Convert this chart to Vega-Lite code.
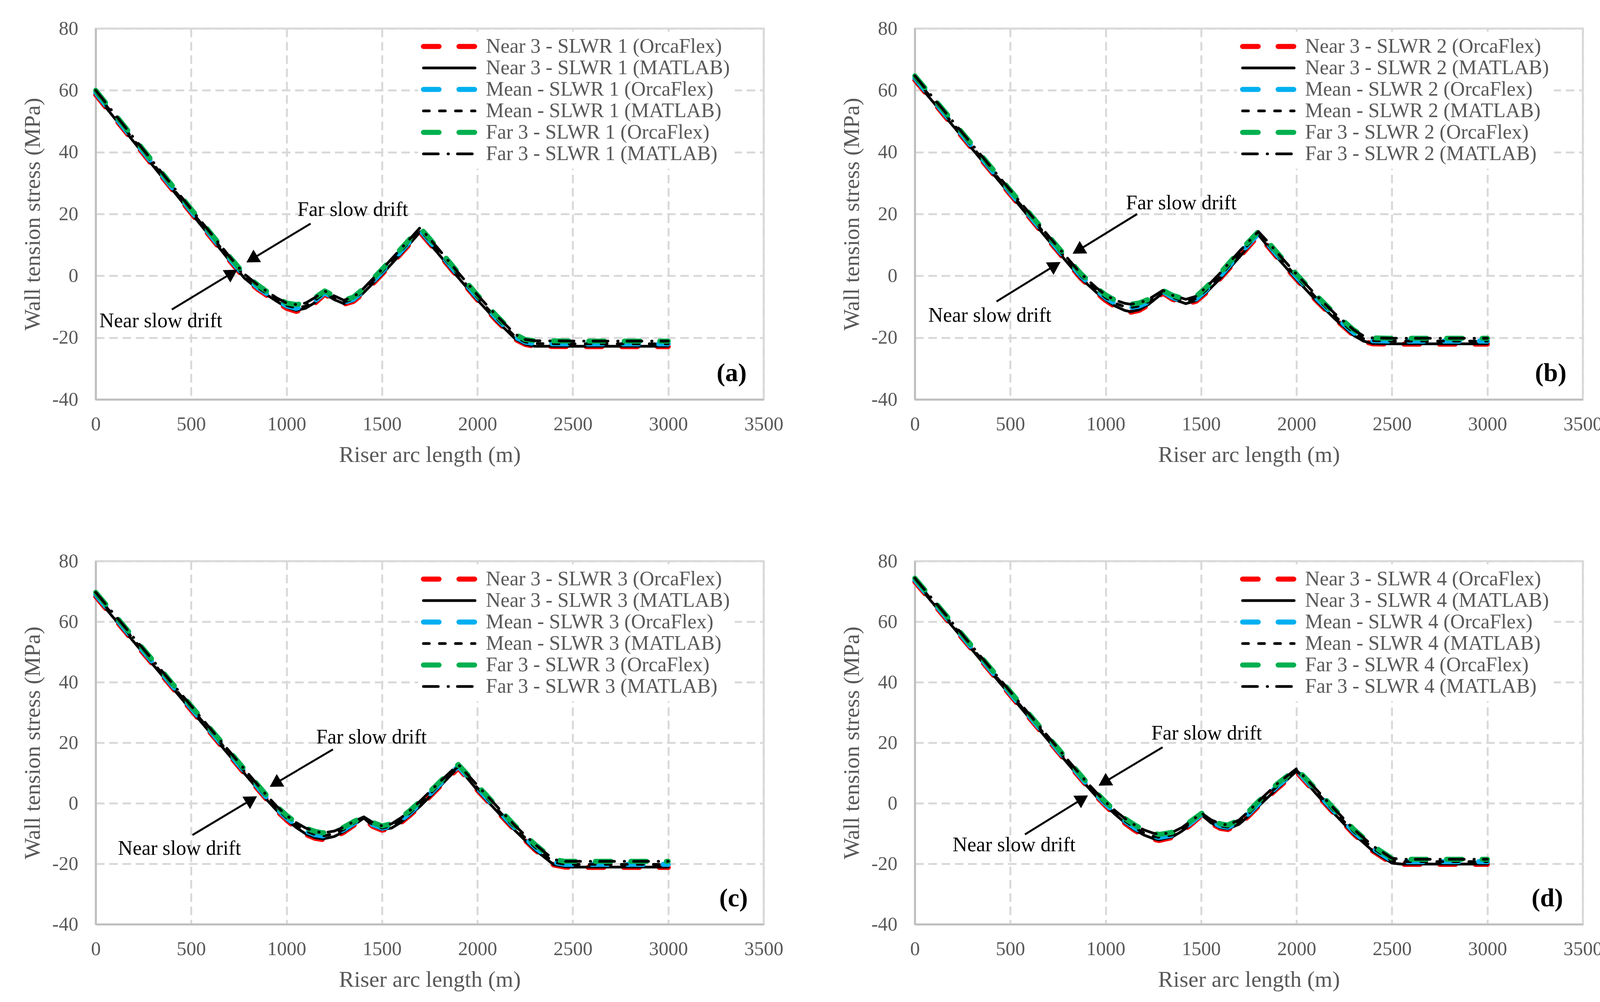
{
  "$schema": "https://vega.github.io/schema/vega-lite/v6.json",
  "background": "white",
  "padding": {"left": 52, "top": 45, "right": 10, "bottom": 10},
  "columns": 2,
  "spacing": {"row": 414, "column": 387},
  "bounds": "flush",
  "resolve": {
    "scale": {"x": "independent", "y": "independent", "color": "independent", "strokeDash": "independent"},
    "legend": {"color": "independent", "strokeDash": "independent"}
  },
  "config": {
    "font": "Liberation Serif",
    "view": {"stroke": "#d9d9d9", "strokeWidth": 5},
    "axis": {
      "labelFont": "Liberation Serif", "labelFontSize": 50, "labelColor": "#595959",
      "titleFont": "Liberation Serif", "titleFontSize": 58, "titleColor": "#595959", "titleFontWeight": "normal",
      "ticks": false, "domainColor": "#bfbfbf", "domainWidth": 5,
      "gridColor": "#d9d9d9", "gridWidth": 5, "gridDash": [22, 12],
      "labelFlush": false, "labelOverlap": false
    },
    "axisX": {"labelPadding": 38, "titlePadding": 25},
    "axisY": {"labelPadding": 45, "titlePadding": 20},
    "legend": {
      "fillColor": "white", "padding": 12, "symbolType": "stroke", "symbolSize": 17424,
      "symbolOffset": 42, "labelFont": "Liberation Serif", "labelFontSize": 52, "labelColor": "#595959",
      "labelOffset": 68, "rowPadding": 3, "labelLimit": 2000
    }
  },
  "datasets": {
    "a": [
      {"x": 0, "NO": 58.6, "NM": 58.6, "MO": 59.3, "MM": 59.3, "FO": 60.0, "FM": 60.0},
      {"x": 100, "NO": 50.9, "NM": 50.9, "MO": 51.6, "MM": 51.6, "FO": 52.3, "FM": 52.3},
      {"x": 200, "NO": 43.3, "NM": 43.3, "MO": 43.9, "MM": 43.9, "FO": 44.6, "FM": 44.6},
      {"x": 300, "NO": 35.6, "NM": 35.6, "MO": 36.3, "MM": 36.3, "FO": 36.9, "FM": 36.9},
      {"x": 400, "NO": 28.0, "NM": 28.0, "MO": 28.6, "MM": 28.6, "FO": 29.3, "FM": 29.3},
      {"x": 500, "NO": 20.3, "NM": 20.3, "MO": 21.0, "MM": 21.0, "FO": 21.6, "FM": 21.6},
      {"x": 600, "NO": 12.7, "NM": 12.7, "MO": 13.3, "MM": 13.3, "FO": 14.0, "FM": 14.0},
      {"x": 700, "NO": 5.0, "NM": 5.0, "MO": 5.7, "MM": 5.7, "FO": 6.3, "FM": 6.3},
      {"x": 780, "NO": -0.8, "NM": -0.8, "MO": -0.1, "MM": -0.1, "FO": 0.5, "FM": 0.5},
      {"x": 850, "NO": -4.4, "NM": -4.3, "MO": -3.8, "MM": -3.8, "FO": -3.0, "FM": -3.0},
      {"x": 900, "NO": -6.5, "NM": -6.3, "MO": -5.9, "MM": -5.9, "FO": -5.2, "FM": -5.2},
      {"x": 950, "NO": -8.6, "NM": -8.3, "MO": -8.0, "MM": -7.9, "FO": -7.2, "FM": -7.2},
      {"x": 1000, "NO": -10.5, "NM": -10.2, "MO": -9.7, "MM": -9.6, "FO": -8.8, "FM": -8.8},
      {"x": 1050, "NO": -11.5, "NM": -11.2, "MO": -10.5, "MM": -10.4, "FO": -9.3, "FM": -9.3},
      {"x": 1100, "NO": -10.8, "NM": -10.5, "MO": -9.9, "MM": -9.8, "FO": -8.8, "FM": -8.8},
      {"x": 1150, "NO": -8.8, "NM": -8.6, "MO": -8.0, "MM": -7.9, "FO": -7.0, "FM": -7.0},
      {"x": 1200, "NO": -6.0, "NM": -5.9, "MO": -5.5, "MM": -5.5, "FO": -4.9, "FM": -4.9},
      {"x": 1250, "NO": -7.9, "NM": -7.7, "MO": -7.2, "MM": -7.2, "FO": -6.5, "FM": -6.5},
      {"x": 1300, "NO": -9.2, "NM": -9.0, "MO": -8.6, "MM": -8.5, "FO": -7.9, "FM": -7.9},
      {"x": 1350, "NO": -8.3, "NM": -8.1, "MO": -7.6, "MM": -7.6, "FO": -6.9, "FM": -6.9},
      {"x": 1400, "NO": -5.8, "NM": -5.7, "MO": -5.0, "MM": -5.0, "FO": -4.3, "FM": -4.3},
      {"x": 1450, "NO": -2.7, "NM": -2.6, "MO": -1.9, "MM": -1.9, "FO": -1.1, "FM": -1.1},
      {"x": 1500, "NO": 0.5, "NM": 0.5, "MO": 1.3, "MM": 1.3, "FO": 2.1, "FM": 2.1},
      {"x": 1600, "NO": 7.2, "NM": 7.2, "MO": 8.0, "MM": 8.0, "FO": 8.8, "FM": 8.8},
      {"x": 1700, "NO": 14.0, "NM": 14.2, "MO": 14.8, "MM": 14.8, "FO": 15.6, "FM": 15.6},
      {"x": 1750, "NO": 10.4, "NM": 10.4, "MO": 11.2, "MM": 11.2, "FO": 12.0, "FM": 12.0},
      {"x": 1800, "NO": 6.8, "NM": 6.8, "MO": 7.6, "MM": 7.6, "FO": 8.4, "FM": 8.4},
      {"x": 1900, "NO": -0.6, "NM": -0.6, "MO": 0.2, "MM": 0.2, "FO": 1.0, "FM": 1.0},
      {"x": 2000, "NO": -7.8, "NM": -7.8, "MO": -7.0, "MM": -7.0, "FO": -6.2, "FM": -6.2},
      {"x": 2100, "NO": -14.5, "NM": -14.5, "MO": -13.7, "MM": -13.7, "FO": -12.9, "FM": -12.9},
      {"x": 2200, "NO": -20.6, "NM": -20.5, "MO": -19.8, "MM": -19.8, "FO": -19.0, "FM": -19.0},
      {"x": 2250, "NO": -22.2, "NM": -22.1, "MO": -21.4, "MM": -21.4, "FO": -20.6, "FM": -20.6},
      {"x": 2300, "NO": -22.8, "NM": -22.8, "MO": -21.9, "MM": -21.9, "FO": -21.0, "FM": -21.0},
      {"x": 2500, "NO": -22.9, "NM": -22.8, "MO": -22.0, "MM": -22.0, "FO": -21.1, "FM": -21.1},
      {"x": 3000, "NO": -22.9, "NM": -22.8, "MO": -22.0, "MM": -22.0, "FO": -21.1, "FM": -21.1}
    ],
    "b": [
      {"x": 0, "NO": 63.3, "NM": 63.3, "MO": 64.0, "MM": 64.0, "FO": 64.7, "FM": 64.7},
      {"x": 100, "NO": 55.9, "NM": 55.9, "MO": 56.6, "MM": 56.6, "FO": 57.3, "FM": 57.3},
      {"x": 200, "NO": 48.5, "NM": 48.5, "MO": 49.2, "MM": 49.2, "FO": 49.9, "FM": 49.9},
      {"x": 300, "NO": 41.1, "NM": 41.1, "MO": 41.8, "MM": 41.8, "FO": 42.5, "FM": 42.5},
      {"x": 400, "NO": 33.7, "NM": 33.7, "MO": 34.4, "MM": 34.4, "FO": 35.1, "FM": 35.1},
      {"x": 500, "NO": 26.3, "NM": 26.3, "MO": 27.0, "MM": 27.0, "FO": 27.7, "FM": 27.7},
      {"x": 600, "NO": 18.9, "NM": 18.9, "MO": 19.6, "MM": 19.6, "FO": 20.3, "FM": 20.3},
      {"x": 700, "NO": 11.5, "NM": 11.5, "MO": 12.2, "MM": 12.2, "FO": 12.9, "FM": 12.9},
      {"x": 800, "NO": 4.2, "NM": 4.2, "MO": 5.0, "MM": 5.0, "FO": 5.7, "FM": 5.7},
      {"x": 870, "NO": -0.8, "NM": -0.8, "MO": 0.0, "MM": 0.0, "FO": 0.7, "FM": 0.7},
      {"x": 950, "NO": -5.4, "NM": -5.3, "MO": -4.6, "MM": -4.6, "FO": -3.8, "FM": -3.8},
      {"x": 1000, "NO": -8.0, "NM": -7.8, "MO": -7.1, "MM": -7.1, "FO": -6.2, "FM": -6.2},
      {"x": 1050, "NO": -10.0, "NM": -9.8, "MO": -8.9, "MM": -8.9, "FO": -7.9, "FM": -7.9},
      {"x": 1100, "NO": -11.4, "NM": -11.2, "MO": -10.0, "MM": -10.0, "FO": -8.9, "FM": -8.9},
      {"x": 1130, "NO": -11.8, "NM": -11.6, "MO": -10.3, "MM": -10.3, "FO": -9.2, "FM": -9.2},
      {"x": 1175, "NO": -11.2, "NM": -11.0, "MO": -9.8, "MM": -9.8, "FO": -8.8, "FM": -8.8},
      {"x": 1225, "NO": -9.4, "NM": -9.2, "MO": -8.4, "MM": -8.4, "FO": -7.6, "FM": -7.6},
      {"x": 1300, "NO": -5.6, "NM": -5.5, "MO": -5.1, "MM": -5.1, "FO": -4.7, "FM": -4.7},
      {"x": 1350, "NO": -7.6, "NM": -7.5, "MO": -7.0, "MM": -7.0, "FO": -6.3, "FM": -6.3},
      {"x": 1420, "NO": -9.2, "NM": -9.0, "MO": -8.4, "MM": -8.4, "FO": -7.6, "FM": -7.6},
      {"x": 1475, "NO": -8.2, "NM": -8.0, "MO": -7.4, "MM": -7.4, "FO": -6.6, "FM": -6.6},
      {"x": 1525, "NO": -5.6, "NM": -5.5, "MO": -4.7, "MM": -4.7, "FO": -3.8, "FM": -3.8},
      {"x": 1600, "NO": -0.9, "NM": -0.9, "MO": 0.0, "MM": 0.0, "FO": 0.9, "FM": 0.9},
      {"x": 1700, "NO": 6.0, "NM": 6.0, "MO": 7.0, "MM": 7.0, "FO": 7.9, "FM": 7.9},
      {"x": 1800, "NO": 13.0, "NM": 13.3, "MO": 13.6, "MM": 13.6, "FO": 14.3, "FM": 14.3},
      {"x": 1850, "NO": 9.5, "NM": 9.5, "MO": 10.3, "MM": 10.3, "FO": 11.0, "FM": 11.0},
      {"x": 1900, "NO": 5.8, "NM": 5.8, "MO": 6.6, "MM": 6.6, "FO": 7.4, "FM": 7.4},
      {"x": 2000, "NO": -1.2, "NM": -1.2, "MO": -0.3, "MM": -0.3, "FO": 0.5, "FM": 0.5},
      {"x": 2100, "NO": -7.8, "NM": -7.8, "MO": -6.9, "MM": -6.9, "FO": -6.1, "FM": -6.1},
      {"x": 2200, "NO": -13.9, "NM": -13.9, "MO": -13.0, "MM": -13.0, "FO": -12.2, "FM": -12.2},
      {"x": 2300, "NO": -19.3, "NM": -19.3, "MO": -18.4, "MM": -18.4, "FO": -17.5, "FM": -17.5},
      {"x": 2350, "NO": -21.2, "NM": -21.1, "MO": -20.3, "MM": -20.3, "FO": -19.4, "FM": -19.4},
      {"x": 2400, "NO": -22.0, "NM": -21.9, "MO": -21.0, "MM": -21.0, "FO": -20.1, "FM": -20.1},
      {"x": 2500, "NO": -22.1, "NM": -22.0, "MO": -21.1, "MM": -21.1, "FO": -20.2, "FM": -20.2},
      {"x": 3000, "NO": -22.1, "NM": -22.0, "MO": -21.1, "MM": -21.1, "FO": -20.2, "FM": -20.2}
    ],
    "c": [
      {"x": 0, "NO": 68.3, "NM": 68.3, "MO": 69.0, "MM": 69.0, "FO": 69.7, "FM": 69.7},
      {"x": 100, "NO": 60.8, "NM": 60.8, "MO": 61.5, "MM": 61.5, "FO": 62.2, "FM": 62.2},
      {"x": 200, "NO": 53.3, "NM": 53.3, "MO": 54.0, "MM": 54.0, "FO": 54.7, "FM": 54.7},
      {"x": 300, "NO": 45.8, "NM": 45.8, "MO": 46.5, "MM": 46.5, "FO": 47.2, "FM": 47.2},
      {"x": 400, "NO": 38.3, "NM": 38.3, "MO": 39.0, "MM": 39.0, "FO": 39.7, "FM": 39.7},
      {"x": 500, "NO": 30.8, "NM": 30.8, "MO": 31.5, "MM": 31.5, "FO": 32.2, "FM": 32.2},
      {"x": 600, "NO": 23.3, "NM": 23.3, "MO": 24.0, "MM": 24.0, "FO": 24.7, "FM": 24.7},
      {"x": 700, "NO": 15.8, "NM": 15.8, "MO": 16.5, "MM": 16.5, "FO": 17.2, "FM": 17.2},
      {"x": 800, "NO": 8.3, "NM": 8.3, "MO": 9.0, "MM": 9.0, "FO": 9.7, "FM": 9.7},
      {"x": 900, "NO": 0.9, "NM": 0.9, "MO": 1.6, "MM": 1.6, "FO": 2.3, "FM": 2.3},
      {"x": 950, "NO": -2.6, "NM": -2.5, "MO": -1.9, "MM": -1.9, "FO": -1.1, "FM": -1.1},
      {"x": 1000, "NO": -5.6, "NM": -5.4, "MO": -4.8, "MM": -4.8, "FO": -4.0, "FM": -4.0},
      {"x": 1050, "NO": -8.2, "NM": -8.0, "MO": -7.3, "MM": -7.3, "FO": -6.4, "FM": -6.4},
      {"x": 1100, "NO": -10.3, "NM": -10.1, "MO": -9.2, "MM": -9.2, "FO": -8.2, "FM": -8.2},
      {"x": 1150, "NO": -11.6, "NM": -11.4, "MO": -10.4, "MM": -10.4, "FO": -9.3, "FM": -9.3},
      {"x": 1190, "NO": -12.0, "NM": -11.8, "MO": -10.8, "MM": -10.8, "FO": -9.8, "FM": -9.8},
      {"x": 1250, "NO": -11.2, "NM": -11.0, "MO": -10.1, "MM": -10.1, "FO": -9.2, "FM": -9.2},
      {"x": 1300, "NO": -9.6, "NM": -9.4, "MO": -8.7, "MM": -8.7, "FO": -7.9, "FM": -7.9},
      {"x": 1350, "NO": -7.4, "NM": -7.3, "MO": -6.7, "MM": -6.7, "FO": -6.1, "FM": -6.1},
      {"x": 1405, "NO": -5.1, "NM": -4.9, "MO": -4.8, "MM": -4.8, "FO": -4.5, "FM": -4.5},
      {"x": 1450, "NO": -7.6, "NM": -7.4, "MO": -7.0, "MM": -7.0, "FO": -6.3, "FM": -6.3},
      {"x": 1500, "NO": -8.9, "NM": -8.7, "MO": -8.2, "MM": -8.2, "FO": -7.5, "FM": -7.5},
      {"x": 1550, "NO": -8.4, "NM": -8.2, "MO": -7.6, "MM": -7.6, "FO": -6.8, "FM": -6.8},
      {"x": 1600, "NO": -6.4, "NM": -6.3, "MO": -5.6, "MM": -5.6, "FO": -4.8, "FM": -4.8},
      {"x": 1650, "NO": -3.8, "NM": -3.7, "MO": -3.0, "MM": -3.0, "FO": -2.2, "FM": -2.2},
      {"x": 1700, "NO": -1.0, "NM": -1.0, "MO": -0.1, "MM": -0.1, "FO": 0.7, "FM": 0.7},
      {"x": 1800, "NO": 5.3, "NM": 5.3, "MO": 6.1, "MM": 6.1, "FO": 6.9, "FM": 6.9},
      {"x": 1900, "NO": 11.6, "NM": 11.9, "MO": 12.2, "MM": 12.2, "FO": 12.8, "FM": 12.8},
      {"x": 2000, "NO": 4.3, "NM": 4.3, "MO": 5.1, "MM": 5.1, "FO": 5.9, "FM": 5.9},
      {"x": 2100, "NO": -2.5, "NM": -2.5, "MO": -1.7, "MM": -1.7, "FO": -0.9, "FM": -0.9},
      {"x": 2200, "NO": -9.2, "NM": -9.2, "MO": -8.4, "MM": -8.4, "FO": -7.6, "FM": -7.6},
      {"x": 2300, "NO": -15.3, "NM": -15.3, "MO": -14.4, "MM": -14.4, "FO": -13.5, "FM": -13.5},
      {"x": 2400, "NO": -20.4, "NM": -20.3, "MO": -19.5, "MM": -19.5, "FO": -18.6, "FM": -18.6},
      {"x": 2460, "NO": -21.1, "NM": -21.0, "MO": -20.2, "MM": -20.2, "FO": -19.2, "FM": -19.2},
      {"x": 2500, "NO": -21.2, "NM": -21.1, "MO": -20.2, "MM": -20.2, "FO": -19.2, "FM": -19.2},
      {"x": 3000, "NO": -21.2, "NM": -21.1, "MO": -20.2, "MM": -20.2, "FO": -19.2, "FM": -19.2}
    ],
    "d": [
      {"x": 0, "NO": 73.2, "NM": 73.2, "MO": 73.8, "MM": 73.8, "FO": 74.4, "FM": 74.4},
      {"x": 100, "NO": 65.7, "NM": 65.7, "MO": 66.3, "MM": 66.3, "FO": 66.9, "FM": 66.9},
      {"x": 200, "NO": 58.2, "NM": 58.2, "MO": 58.8, "MM": 58.8, "FO": 59.4, "FM": 59.4},
      {"x": 300, "NO": 50.7, "NM": 50.7, "MO": 51.3, "MM": 51.3, "FO": 51.9, "FM": 51.9},
      {"x": 400, "NO": 43.2, "NM": 43.2, "MO": 43.8, "MM": 43.8, "FO": 44.4, "FM": 44.4},
      {"x": 500, "NO": 35.7, "NM": 35.7, "MO": 36.3, "MM": 36.3, "FO": 36.9, "FM": 36.9},
      {"x": 600, "NO": 28.2, "NM": 28.2, "MO": 28.8, "MM": 28.8, "FO": 29.4, "FM": 29.4},
      {"x": 700, "NO": 20.7, "NM": 20.7, "MO": 21.3, "MM": 21.3, "FO": 21.9, "FM": 21.9},
      {"x": 800, "NO": 13.2, "NM": 13.2, "MO": 13.8, "MM": 13.8, "FO": 14.4, "FM": 14.4},
      {"x": 900, "NO": 5.8, "NM": 5.8, "MO": 6.4, "MM": 6.4, "FO": 7.0, "FM": 7.0},
      {"x": 950, "NO": 2.3, "NM": 2.3, "MO": 2.9, "MM": 2.9, "FO": 3.6, "FM": 3.6},
      {"x": 1000, "NO": -0.9, "NM": -0.8, "MO": -0.3, "MM": -0.3, "FO": 0.4, "FM": 0.4},
      {"x": 1050, "NO": -3.9, "NM": -3.7, "MO": -3.2, "MM": -3.2, "FO": -2.5, "FM": -2.5},
      {"x": 1100, "NO": -6.6, "NM": -6.4, "MO": -5.8, "MM": -5.8, "FO": -5.0, "FM": -5.0},
      {"x": 1150, "NO": -8.9, "NM": -8.7, "MO": -8.0, "MM": -8.0, "FO": -7.1, "FM": -7.1},
      {"x": 1200, "NO": -10.7, "NM": -10.5, "MO": -9.8, "MM": -9.8, "FO": -8.8, "FM": -8.8},
      {"x": 1250, "NO": -11.9, "NM": -11.7, "MO": -10.9, "MM": -10.9, "FO": -9.9, "FM": -9.9},
      {"x": 1280, "NO": -12.3, "NM": -12.1, "MO": -11.3, "MM": -11.3, "FO": -10.3, "FM": -10.3},
      {"x": 1350, "NO": -11.3, "NM": -11.1, "MO": -10.5, "MM": -10.5, "FO": -9.6, "FM": -9.6},
      {"x": 1400, "NO": -9.4, "NM": -9.2, "MO": -8.7, "MM": -8.7, "FO": -8.0, "FM": -8.0},
      {"x": 1450, "NO": -6.9, "NM": -6.8, "MO": -6.3, "MM": -6.3, "FO": -5.7, "FM": -5.7},
      {"x": 1503, "NO": -4.0, "NM": -3.9, "MO": -3.6, "MM": -3.6, "FO": -3.3, "FM": -3.3},
      {"x": 1550, "NO": -6.6, "NM": -6.4, "MO": -6.0, "MM": -6.0, "FO": -5.4, "FM": -5.4},
      {"x": 1600, "NO": -8.3, "NM": -8.1, "MO": -7.5, "MM": -7.5, "FO": -6.8, "FM": -6.8},
      {"x": 1640, "NO": -8.7, "NM": -8.5, "MO": -7.9, "MM": -7.9, "FO": -7.2, "FM": -7.2},
      {"x": 1700, "NO": -7.0, "NM": -6.9, "MO": -6.2, "MM": -6.2, "FO": -5.5, "FM": -5.5},
      {"x": 1750, "NO": -4.2, "NM": -4.1, "MO": -3.4, "MM": -3.4, "FO": -2.6, "FM": -2.6},
      {"x": 1800, "NO": -1.0, "NM": -1.0, "MO": -0.2, "MM": -0.2, "FO": 0.6, "FM": 0.6},
      {"x": 1900, "NO": 4.9, "NM": 4.9, "MO": 5.7, "MM": 5.7, "FO": 6.5, "FM": 6.5},
      {"x": 2000, "NO": 10.3, "NM": 10.6, "MO": 10.9, "MM": 10.9, "FO": 11.4, "FM": 11.4},
      {"x": 2100, "NO": 3.3, "NM": 3.3, "MO": 4.1, "MM": 4.1, "FO": 4.8, "FM": 4.8},
      {"x": 2200, "NO": -3.6, "NM": -3.6, "MO": -2.8, "MM": -2.8, "FO": -2.0, "FM": -2.0},
      {"x": 2300, "NO": -10.2, "NM": -10.2, "MO": -9.4, "MM": -9.4, "FO": -8.6, "FM": -8.6},
      {"x": 2400, "NO": -15.8, "NM": -15.8, "MO": -14.9, "MM": -14.9, "FO": -14.1, "FM": -14.1},
      {"x": 2500, "NO": -19.9, "NM": -19.8, "MO": -19.0, "MM": -19.0, "FO": -18.2, "FM": -18.2},
      {"x": 2550, "NO": -20.2, "NM": -20.1, "MO": -19.3, "MM": -19.3, "FO": -18.5, "FM": -18.5},
      {"x": 3000, "NO": -20.2, "NM": -20.1, "MO": -19.3, "MM": -19.3, "FO": -18.5, "FM": -18.5}
    ]
  },
  "concat": [
    {
      "width": 1710, "height": 950,
      "layer": [
        {
          "data": {"name": "a"},
          "transform": [{"fold": ["NO", "NM", "MO", "MM", "FO", "FM"], "as": ["series", "stress"]}],
          "mark": {"type": "line", "strokeCap": "round", "strokeJoin": "round"},
          "encoding": {
            "x": {"field": "x", "type": "quantitative", "scale": {"domain": [0, 3500], "nice": false},
              "axis": {"title": "Riser arc length (m)", "values": [0, 500, 1000, 1500, 2000, 2500, 3000, 3500], "labelExpr": "datum.value + ''"}},
            "y": {"field": "stress", "type": "quantitative", "scale": {"domain": [-40, 80], "nice": false},
              "axis": {"title": "Wall tension stress (MPa)", "values": [-40, -20, 0, 20, 40, 60, 80], "labelExpr": "datum.value + ''"}},
            "color": {"field": "series", "type": "nominal",
              "scale": {"domain": ["NO", "NM", "MO", "MM", "FO", "FM"], "range": ["#ff0000", "#000000", "#00b0f0", "#000000", "#00b050", "#000000"]},
              "legend": {"title": null, "orient": "none", "legendX": 825, "legendY": 8,
                "labelExpr": "{'NO': 'Near 3 - SLWR 1 (OrcaFlex)', 'NM': 'Near 3 - SLWR 1 (MATLAB)', 'MO': 'Mean - SLWR 1 (OrcaFlex)', 'MM': 'Mean - SLWR 1 (MATLAB)', 'FO': 'Far 3 - SLWR 1 (OrcaFlex)', 'FM': 'Far 3 - SLWR 1 (MATLAB)'}[datum.value]",
                "encode": {"symbols": {"update": {"strokeCap": {"value": "round"}, "strokeWidth": {"signal": "indexof(['NM','MM','FM'], datum.value) >= 0 ? 7 : 13"}}}}}},
            "strokeDash": {"field": "series", "type": "nominal",
              "scale": {"domain": ["NO", "NM", "MO", "MM", "FO", "FM"], "range": [[40, 51], [1, 0], [40, 51], [15, 26], [40, 51], [38, 25, 1, 23]]}},
            "strokeWidth": {"condition": {"test": "indexof(['NO','MO','FO'], datum.series) >= 0", "value": 13}, "value": 7}
          }
        },
        {
          "data": {"values": [{"x": 1347, "y": 19.4, "label": "Far slow drift"}, {"x": 341, "y": -16.6, "label": "Near slow drift"}]},
          "mark": {"type": "text", "font": "Liberation Serif", "fontSize": 52, "color": "#000000", "align": "center", "baseline": "alphabetic"},
          "encoding": {"x": {"field": "x", "type": "quantitative"}, "y": {"field": "y", "type": "quantitative"}, "text": {"field": "label"}}
        },
        {
          "data": {"values": [{"x": 1126, "y": 16.9, "x2": 818, "y2": 5.4}, {"x": 399, "y": -10.9, "x2": 714, "y2": 0.9}]},
          "mark": {"type": "rule", "color": "#000000", "strokeWidth": 5},
          "encoding": {"x": {"field": "x", "type": "quantitative"}, "y": {"field": "y", "type": "quantitative"}, "x2": {"field": "x2"}, "y2": {"field": "y2"}}
        },
        {
          "data": {"values": [{"x": 818, "y": 5.4}]},
          "mark": {"type": "point", "shape": "triangle-up", "filled": true, "color": "#000000", "opacity": 1, "size": 1400, "angle": 238.8},
          "encoding": {"x": {"field": "x", "type": "quantitative"}, "y": {"field": "y", "type": "quantitative"}}
        },
        {
          "data": {"values": [{"x": 714, "y": 0.9}]},
          "mark": {"type": "point", "shape": "triangle-up", "filled": true, "color": "#000000", "opacity": 1, "size": 1400, "angle": 58.6},
          "encoding": {"x": {"field": "x", "type": "quantitative"}, "y": {"field": "y", "type": "quantitative"}}
        },
        {
          "data": {"values": [{"x": 3332, "y": -31.5, "label": "(a)"}]},
          "mark": {"type": "text", "font": "Liberation Serif", "fontSize": 66, "fontWeight": "bold", "color": "#000000", "align": "center", "baseline": "middle"},
          "encoding": {"x": {"field": "x", "type": "quantitative"}, "y": {"field": "y", "type": "quantitative"}, "text": {"field": "label"}}
        }
      ]
    },
    {
      "width": 1710, "height": 950,
      "layer": [
        {
          "data": {"name": "b"},
          "transform": [{"fold": ["NO", "NM", "MO", "MM", "FO", "FM"], "as": ["series", "stress"]}],
          "mark": {"type": "line", "strokeCap": "round", "strokeJoin": "round"},
          "encoding": {
            "x": {"field": "x", "type": "quantitative", "scale": {"domain": [0, 3500], "nice": false},
              "axis": {"title": "Riser arc length (m)", "values": [0, 500, 1000, 1500, 2000, 2500, 3000, 3500], "labelExpr": "datum.value + ''"}},
            "y": {"field": "stress", "type": "quantitative", "scale": {"domain": [-40, 80], "nice": false},
              "axis": {"title": "Wall tension stress (MPa)", "values": [-40, -20, 0, 20, 40, 60, 80], "labelExpr": "datum.value + ''"}},
            "color": {"field": "series", "type": "nominal",
              "scale": {"domain": ["NO", "NM", "MO", "MM", "FO", "FM"], "range": ["#ff0000", "#000000", "#00b0f0", "#000000", "#00b050", "#000000"]},
              "legend": {"title": null, "orient": "none", "legendX": 825, "legendY": 8,
                "labelExpr": "{'NO': 'Near 3 - SLWR 2 (OrcaFlex)', 'NM': 'Near 3 - SLWR 2 (MATLAB)', 'MO': 'Mean - SLWR 2 (OrcaFlex)', 'MM': 'Mean - SLWR 2 (MATLAB)', 'FO': 'Far 3 - SLWR 2 (OrcaFlex)', 'FM': 'Far 3 - SLWR 2 (MATLAB)'}[datum.value]",
                "encode": {"symbols": {"update": {"strokeCap": {"value": "round"}, "strokeWidth": {"signal": "indexof(['NM','MM','FM'], datum.value) >= 0 ? 7 : 13"}}}}}},
            "strokeDash": {"field": "series", "type": "nominal",
              "scale": {"domain": ["NO", "NM", "MO", "MM", "FO", "FM"], "range": [[40, 51], [1, 0], [40, 51], [15, 26], [40, 51], [38, 25, 1, 23]]}},
            "strokeWidth": {"condition": {"test": "indexof(['NO','MO','FO'], datum.series) >= 0", "value": 13}, "value": 7}
          }
        },
        {
          "data": {"values": [{"x": 1396, "y": 21.5, "label": "Far slow drift"}, {"x": 393, "y": -14.9, "label": "Near slow drift"}]},
          "mark": {"type": "text", "font": "Liberation Serif", "fontSize": 52, "color": "#000000", "align": "center", "baseline": "alphabetic"},
          "encoding": {"x": {"field": "x", "type": "quantitative"}, "y": {"field": "y", "type": "quantitative"}, "text": {"field": "label"}}
        },
        {
          "data": {"values": [{"x": 1165, "y": 20.0, "x2": 855, "y2": 8.2}, {"x": 428, "y": -8.3, "x2": 735, "y2": 3.4}]},
          "mark": {"type": "rule", "color": "#000000", "strokeWidth": 5},
          "encoding": {"x": {"field": "x", "type": "quantitative"}, "y": {"field": "y", "type": "quantitative"}, "x2": {"field": "x2"}, "y2": {"field": "y2"}}
        },
        {
          "data": {"values": [{"x": 855, "y": 8.2}]},
          "mark": {"type": "point", "shape": "triangle-up", "filled": true, "color": "#000000", "opacity": 1, "size": 1400, "angle": 238.8},
          "encoding": {"x": {"field": "x", "type": "quantitative"}, "y": {"field": "y", "type": "quantitative"}}
        },
        {
          "data": {"values": [{"x": 735, "y": 3.4}]},
          "mark": {"type": "point", "shape": "triangle-up", "filled": true, "color": "#000000", "opacity": 1, "size": 1400, "angle": 58.6},
          "encoding": {"x": {"field": "x", "type": "quantitative"}, "y": {"field": "y", "type": "quantitative"}}
        },
        {
          "data": {"values": [{"x": 3332, "y": -31.5, "label": "(b)"}]},
          "mark": {"type": "text", "font": "Liberation Serif", "fontSize": 66, "fontWeight": "bold", "color": "#000000", "align": "center", "baseline": "middle"},
          "encoding": {"x": {"field": "x", "type": "quantitative"}, "y": {"field": "y", "type": "quantitative"}, "text": {"field": "label"}}
        }
      ]
    },
    {
      "width": 1710, "height": 930,
      "layer": [
        {
          "data": {"name": "c"},
          "transform": [{"fold": ["NO", "NM", "MO", "MM", "FO", "FM"], "as": ["series", "stress"]}],
          "mark": {"type": "line", "strokeCap": "round", "strokeJoin": "round"},
          "encoding": {
            "x": {"field": "x", "type": "quantitative", "scale": {"domain": [0, 3500], "nice": false},
              "axis": {"title": "Riser arc length (m)", "values": [0, 500, 1000, 1500, 2000, 2500, 3000, 3500], "labelExpr": "datum.value + ''"}},
            "y": {"field": "stress", "type": "quantitative", "scale": {"domain": [-40, 80], "nice": false},
              "axis": {"title": "Wall tension stress (MPa)", "values": [-40, -20, 0, 20, 40, 60, 80], "labelExpr": "datum.value + ''"}},
            "color": {"field": "series", "type": "nominal",
              "scale": {"domain": ["NO", "NM", "MO", "MM", "FO", "FM"], "range": ["#ff0000", "#000000", "#00b0f0", "#000000", "#00b050", "#000000"]},
              "legend": {"title": null, "orient": "none", "legendX": 825, "legendY": 8,
                "labelExpr": "{'NO': 'Near 3 - SLWR 3 (OrcaFlex)', 'NM': 'Near 3 - SLWR 3 (MATLAB)', 'MO': 'Mean - SLWR 3 (OrcaFlex)', 'MM': 'Mean - SLWR 3 (MATLAB)', 'FO': 'Far 3 - SLWR 3 (OrcaFlex)', 'FM': 'Far 3 - SLWR 3 (MATLAB)'}[datum.value]",
                "encode": {"symbols": {"update": {"strokeCap": {"value": "round"}, "strokeWidth": {"signal": "indexof(['NM','MM','FM'], datum.value) >= 0 ? 7 : 13"}}}}}},
            "strokeDash": {"field": "series", "type": "nominal",
              "scale": {"domain": ["NO", "NM", "MO", "MM", "FO", "FM"], "range": [[40, 51], [1, 0], [40, 51], [15, 26], [40, 51], [38, 25, 1, 23]]}},
            "strokeWidth": {"condition": {"test": "indexof(['NO','MO','FO'], datum.series) >= 0", "value": 13}, "value": 7}
          }
        },
        {
          "data": {"values": [{"x": 1445, "y": 19.7, "label": "Far slow drift"}, {"x": 439, "y": -17.0, "label": "Near slow drift"}]},
          "mark": {"type": "text", "font": "Liberation Serif", "fontSize": 52, "color": "#000000", "align": "center", "baseline": "alphabetic"},
          "encoding": {"x": {"field": "x", "type": "quantitative"}, "y": {"field": "y", "type": "quantitative"}, "text": {"field": "label"}}
        },
        {
          "data": {"values": [{"x": 1243, "y": 17.8, "x2": 940, "y2": 6.5}, {"x": 507, "y": -10.5, "x2": 817, "y2": 1.2}]},
          "mark": {"type": "rule", "color": "#000000", "strokeWidth": 5},
          "encoding": {"x": {"field": "x", "type": "quantitative"}, "y": {"field": "y", "type": "quantitative"}, "x2": {"field": "x2"}, "y2": {"field": "y2"}}
        },
        {
          "data": {"values": [{"x": 940, "y": 6.5}]},
          "mark": {"type": "point", "shape": "triangle-up", "filled": true, "color": "#000000", "opacity": 1, "size": 1400, "angle": 238.8},
          "encoding": {"x": {"field": "x", "type": "quantitative"}, "y": {"field": "y", "type": "quantitative"}}
        },
        {
          "data": {"values": [{"x": 817, "y": 1.2}]},
          "mark": {"type": "point", "shape": "triangle-up", "filled": true, "color": "#000000", "opacity": 1, "size": 1400, "angle": 58.6},
          "encoding": {"x": {"field": "x", "type": "quantitative"}, "y": {"field": "y", "type": "quantitative"}}
        },
        {
          "data": {"values": [{"x": 3342, "y": -31.5, "label": "(c)"}]},
          "mark": {"type": "text", "font": "Liberation Serif", "fontSize": 66, "fontWeight": "bold", "color": "#000000", "align": "center", "baseline": "middle"},
          "encoding": {"x": {"field": "x", "type": "quantitative"}, "y": {"field": "y", "type": "quantitative"}, "text": {"field": "label"}}
        }
      ]
    },
    {
      "width": 1710, "height": 930,
      "layer": [
        {
          "data": {"name": "d"},
          "transform": [{"fold": ["NO", "NM", "MO", "MM", "FO", "FM"], "as": ["series", "stress"]}],
          "mark": {"type": "line", "strokeCap": "round", "strokeJoin": "round"},
          "encoding": {
            "x": {"field": "x", "type": "quantitative", "scale": {"domain": [0, 3500], "nice": false},
              "axis": {"title": "Riser arc length (m)", "values": [0, 500, 1000, 1500, 2000, 2500, 3000, 3500], "labelExpr": "datum.value + ''"}},
            "y": {"field": "stress", "type": "quantitative", "scale": {"domain": [-40, 80], "nice": false},
              "axis": {"title": "Wall tension stress (MPa)", "values": [-40, -20, 0, 20, 40, 60, 80], "labelExpr": "datum.value + ''"}},
            "color": {"field": "series", "type": "nominal",
              "scale": {"domain": ["NO", "NM", "MO", "MM", "FO", "FM"], "range": ["#ff0000", "#000000", "#00b0f0", "#000000", "#00b050", "#000000"]},
              "legend": {"title": null, "orient": "none", "legendX": 825, "legendY": 8,
                "labelExpr": "{'NO': 'Near 3 - SLWR 4 (OrcaFlex)', 'NM': 'Near 3 - SLWR 4 (MATLAB)', 'MO': 'Mean - SLWR 4 (OrcaFlex)', 'MM': 'Mean - SLWR 4 (MATLAB)', 'FO': 'Far 3 - SLWR 4 (OrcaFlex)', 'FM': 'Far 3 - SLWR 4 (MATLAB)'}[datum.value]",
                "encode": {"symbols": {"update": {"strokeCap": {"value": "round"}, "strokeWidth": {"signal": "indexof(['NM','MM','FM'], datum.value) >= 0 ? 7 : 13"}}}}}},
            "strokeDash": {"field": "series", "type": "nominal",
              "scale": {"domain": ["NO", "NM", "MO", "MM", "FO", "FM"], "range": [[40, 51], [1, 0], [40, 51], [15, 26], [40, 51], [38, 25, 1, 23]]}},
            "strokeWidth": {"condition": {"test": "indexof(['NO','MO','FO'], datum.series) >= 0", "value": 13}, "value": 7}
          }
        },
        {
          "data": {"values": [{"x": 1529, "y": 21.0, "label": "Far slow drift"}, {"x": 520, "y": -15.9, "label": "Near slow drift"}]},
          "mark": {"type": "text", "font": "Liberation Serif", "fontSize": 52, "color": "#000000", "align": "center", "baseline": "alphabetic"},
          "encoding": {"x": {"field": "x", "type": "quantitative"}, "y": {"field": "y", "type": "quantitative"}, "text": {"field": "label"}}
        },
        {
          "data": {"values": [{"x": 1298, "y": 18.5, "x2": 991, "y2": 6.9}, {"x": 577, "y": -10.3, "x2": 879, "y2": 1.5}]},
          "mark": {"type": "rule", "color": "#000000", "strokeWidth": 5},
          "encoding": {"x": {"field": "x", "type": "quantitative"}, "y": {"field": "y", "type": "quantitative"}, "x2": {"field": "x2"}, "y2": {"field": "y2"}}
        },
        {
          "data": {"values": [{"x": 991, "y": 6.9}]},
          "mark": {"type": "point", "shape": "triangle-up", "filled": true, "color": "#000000", "opacity": 1, "size": 1400, "angle": 238.8},
          "encoding": {"x": {"field": "x", "type": "quantitative"}, "y": {"field": "y", "type": "quantitative"}}
        },
        {
          "data": {"values": [{"x": 879, "y": 1.5}]},
          "mark": {"type": "point", "shape": "triangle-up", "filled": true, "color": "#000000", "opacity": 1, "size": 1400, "angle": 58.6},
          "encoding": {"x": {"field": "x", "type": "quantitative"}, "y": {"field": "y", "type": "quantitative"}}
        },
        {
          "data": {"values": [{"x": 3314, "y": -31.5, "label": "(d)"}]},
          "mark": {"type": "text", "font": "Liberation Serif", "fontSize": 66, "fontWeight": "bold", "color": "#000000", "align": "center", "baseline": "middle"},
          "encoding": {"x": {"field": "x", "type": "quantitative"}, "y": {"field": "y", "type": "quantitative"}, "text": {"field": "label"}}
        }
      ]
    }
  ]
}
